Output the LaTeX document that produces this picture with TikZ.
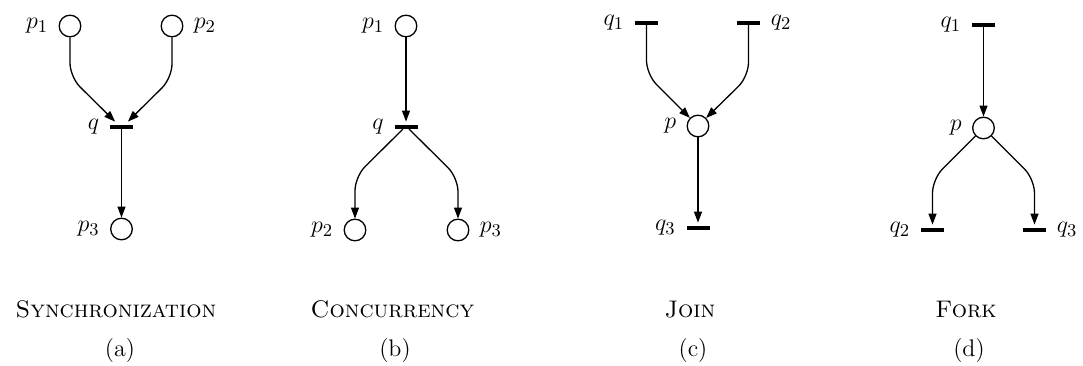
\documentclass[tikz,border=0pt]{standalone}
\usetikzlibrary{arrows.meta}
\tikzset{
  place/.style={circle, draw, minimum size=10.8pt, inner sep=0pt, line width=0.65pt},
  trans/.style={fill, minimum width=11.5pt, minimum height=1.6pt, inner sep=0pt},
  arr/.style={-{Triangle[length=5.5pt,width=4pt]}, line width=0.65pt, rounded corners=7pt},
  captext/.style={anchor=base, inner sep=0pt},
  every label/.style={inner sep=0pt, font=\fontsize{13}{15}\selectfont},
  label distance=5pt
}
\begin{document}
\begin{tikzpicture}[x=0.5pt,y=-0.5pt, font=\fontsize{12}{14}\selectfont]
\useasboundingbox (0,0) rectangle (1083,365);

% (a) Synchronization
\node[place, label={left:$p_1$}] (a1) at (70,26) {};
\node[place, label={right:$p_2$}] (a2) at (172,26) {};
\node[trans, label={left:$q$}] (aq) at (121.5,127) {};
\node[place, label={left:$p_3$}] (a3) at (121.5,229) {};
\coordinate (ac1) at (70,77);
\coordinate (ac2) at (172,78);
\draw[arr] (a1) -- (ac1) -- ([xshift=-3.2pt,yshift=1.7pt]aq.north);
\draw[arr] (a2) -- (ac2) -- ([xshift=3.2pt,yshift=1.7pt]aq.north);
\draw[arr] (aq) -- (a3);

% (b) Concurrency
\node[place, label={left:$p_1$}] (b1) at (406,26) {};
\node[trans, label={left:$q$}] (bq) at (406,127) {};
\node[place, label={left:$p_2$}] (b2) at (355,230) {};
\node[place, label={right:$p_3$}] (b3) at (458,230) {};
\coordinate (bc2) at (355,176.6);
\coordinate (bc3) at (458,177.6);
\draw[arr] (b1) -- ([yshift=1.7pt]bq.north);
\draw[arr] ([xshift=-1.5pt]bq.south) -- (bc2) -- (b2);
\draw[arr] ([xshift=1.5pt]bq.south) -- (bc3) -- (b3);

% (c) Join
\node[trans, label={left:$q_1$}] (c1) at (646.5,23) {};
\node[trans, label={right:$q_2$}] (c2) at (748.5,23) {};
\node[place, label={left:$p$}] (cp) at (698,126) {};
\node[trans, label={left:$q_3$}] (c3) at (698,228) {};
\coordinate (cc1) at (646.5,74.5);
\coordinate (cc2) at (748.5,76.5);
\draw[arr] (c1) -- (cc1) -- (cp);
\draw[arr] (c2) -- (cc2) -- (cp);
\draw[arr] (cp) -- ([yshift=1.7pt]c3.north);

% (d) Fork
\node[trans, label={left:$q_1$}] (d1) at (983.5,25) {};
\node[place, label={left:$p$}] (dp) at (983.5,128) {};
\node[trans, label={left:$q_2$}] (d2) at (932.5,230) {};
\node[trans, label={right:$q_3$}] (d3) at (1034.5,230) {};
\coordinate (dc2) at (932.5,179);
\coordinate (dc3) at (1034.5,179);
\draw[arr] (d1) -- (dp);
\draw[arr] (dp) -- (dc2) -- ([yshift=1.7pt]d2.north);
\draw[arr] (dp) -- (dc3) -- ([yshift=1.7pt]d3.north);

% captions
\node[captext] (ta) at (116,317) {\textsc{Synchronization}};
\node[captext] (tb) at (392.5,317) {\textsc{Concurrency}};
\node[captext] (tc) at (690,317) {\textsc{Join}};
\node[captext] (td) at (966,317) {\textsc{Fork}};
\node[captext] (sa) at (120,356) {(a)};
\node[captext] (sb) at (395,356) {(b)};
\node[captext] (sc) at (693,356) {(c)};
\node[captext] (sd) at (969,356) {(d)};
\end{tikzpicture}
\end{document}
